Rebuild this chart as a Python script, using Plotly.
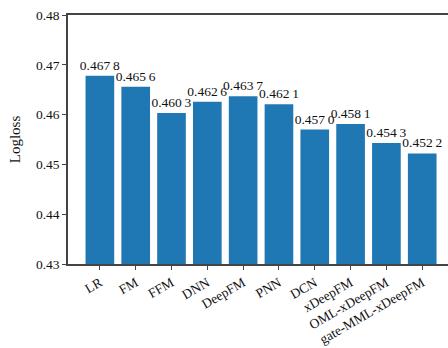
import plotly.graph_objects as go

models = ["LR", "FM", "FFM", "DNN", "DeepFM", "PNN", "DCN", "xDeepFM", "OML-xDeepFM", "gate-MML-xDeepFM"]
logloss = [0.4678, 0.4656, 0.4603, 0.4626, 0.4637, 0.4621, 0.4570, 0.4581, 0.4543, 0.4522]
yticks = [0.43, 0.44, 0.45, 0.46, 0.47, 0.48]

def fmt(v):
    s = f"{v:.4f}"
    return s[:-1] + "\u2009" + s[-1]

labels = [fmt(v) for v in logloss]
xs = list(range(len(models)))

fig = go.Figure(go.Bar(
    x=xs, y=logloss, width=0.8,
    marker=dict(color="#1f77b4", line=dict(width=0)),
    text=labels, textposition="outside", cliponaxis=False,
    constraintext="none", textangle=0,
    textfont=dict(family="Liberation Serif", size=13.5, color="#111"),
    hoverinfo="skip",
))

fig.update_layout(
    width=448, height=348,
    margin=dict(l=68, r=0, t=15, b=84),
    paper_bgcolor="white", plot_bgcolor="white",
    font=dict(family="Liberation Serif", size=14, color="#111"),
    showlegend=False,
    bargap=0.2,
)
fig.update_xaxes(
    range=[-0.89, 9.72], tickvals=xs, ticktext=models, tickangle=-30,
    showline=True, linecolor="#444", linewidth=1.5, mirror=True,
    ticks="outside", ticklen=4, tickcolor="#444", showgrid=False, zeroline=False,
    tickfont=dict(family="Liberation Serif", size=13.5), automargin=False,
)
fig.update_yaxes(
    range=[0.43, 0.48], tickvals=yticks, ticktext=[f"{v:.2f}" for v in yticks],
    showline=True, linecolor="#444", linewidth=1.5,
    ticks="outside", ticklen=4, tickcolor="#444", showgrid=False, zeroline=False,
    title=dict(text="Logloss", font=dict(family="Liberation Serif", size=15), standoff=12),
    tickfont=dict(family="Liberation Serif", size=13.5), automargin=False,
)

fig.write_html(
    "out.html",
    config={"displayModeBar": False},
    post_script="document.body.style.margin='0';document.body.style.overflow='hidden';",
)
